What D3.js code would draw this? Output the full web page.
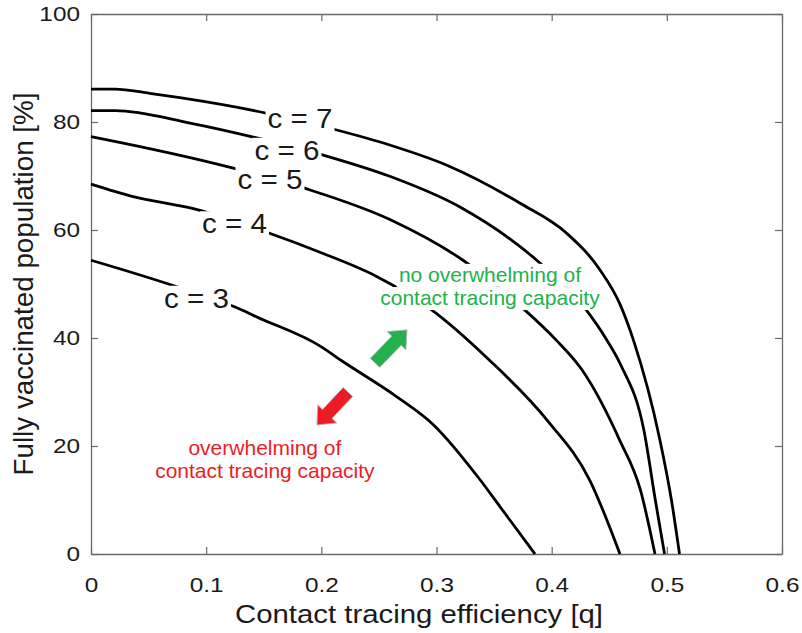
<!DOCTYPE html>
<html>
<head>
<meta charset="utf-8">
<script src="https://cdn.jsdelivr.net/npm/d3@7"></script>
<style>
  html, body { margin: 0; padding: 0; background: #fff; }
  svg { display: block; font-family: "Liberation Sans", Arial, sans-serif; }
</style>
</head>
<body>
<div id="chart"></div>
<script>
// ---- data ----
const qTicks = [0, 0.1, 0.2, 0.3, 0.4, 0.5, 0.6];
const vTicks = [0, 20, 40, 60, 80, 100];
const levels = [3, 4, 5, 6, 7];

const c3 = [[0,54.4],[0.070,49.8],[0.131,45.2],[0.144,43.9],[0.199,38.5],[0.219,35.6],[0.265,29.2],[0.297,24.0],[0.338,13.7],[0.355,8.8],[0.3855,0]];
const c4 = [[0,68.5],[0.0365,66.2],[0.088,64.0],[0.155,59.4],[0.201,55.7],[0.248,51.4],[0.294,45.5],[0.346,35.9],[0.396,24.8],[0.433,13.7],[0.4593,0]];
const c5 = [[0,77.3],[0.028,76.1],[0.121,71.6],[0.186,67.7],[0.26,61.9],[0.323,54.4],[0.375,45.5],[0.404,39.6],[0.426,34.2],[0.459,21.1],[0.477,11.9],[0.4897,0]];
const c6 = [[0,82.1],[0.021,82.1],[0.086,79.8],[0.141,77.2],[0.206,73.6],[0.26,69.9],[0.32,64.3],[0.387,54.4],[0.429,45.5],[0.448,39.6],[0.46,35.0],[0.48,23.0],[0.49,10.0],[0.498,0]];
const c7 = [[0,86.1],[0.021,86.1],[0.051,85.3],[0.08,84.4],[0.153,81.6],[0.21,78.7],[0.26,75.7],[0.309,72.0],[0.373,64.9],[0.413,59.4],[0.442,52.6],[0.459,46.4],[0.471,39.6],[0.494,21.1],[0.504,10.0],[0.511,0]];
const curves = [c3, c4, c5, c6, c7];

// contour label anchors (q, v at text baseline)
const labelQ = [0.0916, 0.1246, 0.1554, 0.1702, 0.1815];
const labelV = [45.6, 59.4, 67.6, 73.0, 78.9];

// annotations
const greenLines = ["no overwhelming of", "contact tracing capacity"];
const greenQ = 0.3464, greenV = [50.4, 46.1];
const redLines = ["overwhelming of", "contact tracing capacity"];
const redQ = 0.151, redV = [18.3, 14.1];
// arrows: [tailQ, tailV, tipQ, tipV]
const greenArrow = [0.2466, 35.4, 0.2744, 41.5];
const redArrow = [0.2231, 30.0, 0.1962, 23.9];

const xTitle = "Contact tracing efficiency [q]";
const yTitle = "Fully vaccinated population [%]";

// ---- layout ----
const W = 802, H = 633;
const L = 91, R = 782, T = 14, B = 554;
const svg = d3.select("#chart").append("svg").attr("width", W).attr("height", H);

const x = d3.scaleLinear().domain([0, 0.6]).range([L, R]);
const y = d3.scaleLinear().domain([0, 100]).range([B, T]);

const axisColor = "#6a6a6a";
const textColor = "#1a1a1a";

function stretch(sel, k) {
  sel.each(function () {
    const w = this.getComputedTextLength();
    d3.select(this).attr("textLength", w * k).attr("lengthAdjust", "spacingAndGlyphs");
  });
}

// axes
const fmtX = d => d === 0 ? "0" : d3.format(".1f")(d);
const gx = svg.append("g").attr("transform", `translate(0,${B})`)
  .call(d3.axisBottom(x).tickValues(qTicks).tickFormat(fmtX).tickSizeInner(-7).tickSizeOuter(0).tickPadding(23));
const gy = svg.append("g").attr("transform", `translate(${L},0)`)
  .call(d3.axisLeft(y).tickValues(vTicks).tickSizeInner(-7).tickSizeOuter(0).tickPadding(11));
const gxt = svg.append("g").attr("transform", `translate(0,${T})`)
  .call(d3.axisTop(x).tickValues(qTicks).tickFormat("").tickSizeInner(-7).tickSizeOuter(0));
const gyr = svg.append("g").attr("transform", `translate(${R},0)`)
  .call(d3.axisRight(y).tickValues(vTicks).tickFormat("").tickSizeInner(-7).tickSizeOuter(0));

[gx, gy, gxt, gyr].forEach(g => {
  g.select(".domain").attr("stroke", axisColor).attr("stroke-width", 1.3);
  g.selectAll(".tick line").attr("stroke", axisColor).attr("stroke-width", 1.2);
});
[gx, gy].forEach(g => {
  g.selectAll(".tick text").attr("fill", textColor).attr("font-size", 21)
    .attr("font-family", "'Liberation Sans', Arial, sans-serif");
  stretch(g.selectAll(".tick text"), 1.16);
});

// contour lines
const line = d3.line().x(d => x(d[0])).y(d => y(d[1])).curve(d3.curveMonotoneX);
svg.append("g").selectAll("path").data(curves).join("path")
  .attr("d", line).attr("fill", "none").attr("stroke", "#000")
  .attr("stroke-width", 2.8).attr("stroke-linejoin", "round");

// contour labels with white backgrounds
const lg = svg.append("g");
levels.forEach((c, i) => {
  const g = lg.append("g");
  const t = g.append("text").attr("x", x(labelQ[i])).attr("y", y(labelV[i]))
    .attr("text-anchor", "middle").attr("font-size", 28).attr("fill", textColor)
    .text(`c = ${c}`);
  t.attr("textLength", 65).attr("lengthAdjust", "spacingAndGlyphs");
  const bb = t.node().getBBox();
  g.insert("rect", "text").attr("x", bb.x - 2).attr("y", bb.y + 3)
    .attr("width", bb.width + 4).attr("height", bb.height - 4).attr("fill", "#fff");
});

// annotations text
function annot(lines, q, vs, color) {
  const g = svg.append("g");
  lines.forEach((s, i) => {
    const gg = g.append("g");
    const t = gg.append("text").attr("x", x(q)).attr("y", y(vs[i]))
      .attr("text-anchor", "middle").attr("font-size", 21).attr("fill", color).text(s);
    const bb = t.node().getBBox();
    gg.insert("rect", "text").attr("x", bb.x - 2).attr("y", bb.y + 1)
      .attr("width", bb.width + 4).attr("height", bb.height).attr("fill", "#fff");
  });
}
annot(greenLines, greenQ, greenV, "#22b14c");
annot(redLines, redQ, redV, "#ed1c24");

// fat arrows
function arrow(a, color) {
  const x0 = x(a[0]), y0 = y(a[1]), x1 = x(a[2]), y1 = y(a[3]);
  const len = Math.hypot(x1 - x0, y1 - y0);
  const ang = Math.atan2(y1 - y0, x1 - x0) * 180 / Math.PI;
  const hl = 15, hw = 13, sw = 6.5;
  const pts = [[0,-sw],[len-hl,-sw],[len-hl,-hw],[len,0],[len-hl,hw],[len-hl,sw],[0,sw]];
  svg.append("polygon").attr("points", pts.map(p => p.join(",")).join(" "))
    .attr("transform", `translate(${x0},${y0}) rotate(${ang})`)
    .attr("fill", color).attr("stroke", "#b0b0b0").attr("stroke-width", 0.8)
    .attr("stroke-linejoin", "miter");
}
arrow(greenArrow, "#22b14c");
arrow(redArrow, "#ed1c24");

// axis titles
svg.append("text").attr("x", 419).attr("y", 623).attr("text-anchor", "middle")
  .attr("font-size", 25.5).attr("fill", textColor)
  .attr("textLength", 368).attr("lengthAdjust", "spacingAndGlyphs").text(xTitle);
svg.append("text").attr("transform", `translate(33,${(T + B) / 2}) rotate(-90)`)
  .attr("text-anchor", "middle").attr("font-size", 28).attr("fill", textColor)
  .attr("textLength", 383).attr("lengthAdjust", "spacingAndGlyphs").text(yTitle);
</script>
</body>
</html>
